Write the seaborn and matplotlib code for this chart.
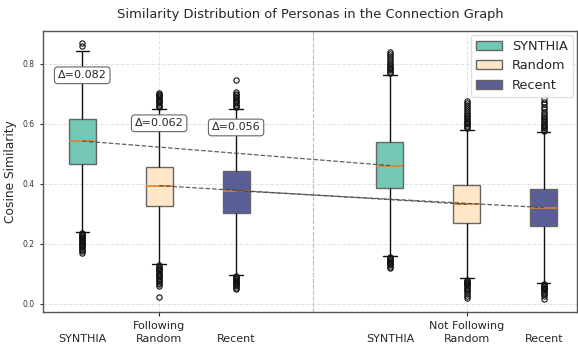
import pandas as pd
import numpy as np
import matplotlib.pyplot as plt
import seaborn as sns

# --- data ---
methods = ["SYNTHIA", "Random", "Recent"]
groups = ["Following", "Not Following"]
palette = {"SYNTHIA": "#72c7b5", "Random": "#fee6c6", "Recent": "#5a5e96"}

# box statistics per (group, method): lower whisker, q1, median, q3, upper whisker
whislo = [0.241, 0.134, 0.097, 0.160, 0.085, 0.071]
q1 = [0.466, 0.327, 0.304, 0.386, 0.270, 0.258]
median = [0.543, 0.394, 0.377, 0.461, 0.332, 0.321]
q3 = [0.617, 0.457, 0.443, 0.538, 0.395, 0.384]
whishi = [0.842, 0.650, 0.650, 0.764, 0.580, 0.572]

low_outliers = [
    [0.236, 0.232, 0.228, 0.225, 0.222, 0.219, 0.216, 0.213, 0.210, 0.207,
     0.204, 0.200, 0.196, 0.192, 0.188, 0.184, 0.180, 0.175, 0.170],
    [0.128, 0.124, 0.120, 0.116, 0.112, 0.108, 0.104, 0.100, 0.096, 0.092,
     0.088, 0.084, 0.080, 0.075, 0.070, 0.065, 0.058, 0.022],
    [0.092, 0.089, 0.086, 0.083, 0.080, 0.077, 0.074, 0.070, 0.066, 0.062,
     0.058, 0.053, 0.048],
    [0.155, 0.152, 0.149, 0.146, 0.143, 0.140, 0.136, 0.132, 0.128, 0.124, 0.119],
    [0.080, 0.077, 0.074, 0.071, 0.068, 0.065, 0.062, 0.058, 0.054, 0.050,
     0.045, 0.040, 0.034, 0.027, 0.019],
    [0.066, 0.063, 0.060, 0.057, 0.054, 0.051, 0.048, 0.045, 0.041, 0.037,
     0.032, 0.026, 0.016],
]
high_outliers = [
    [0.860, 0.870],
    [0.656, 0.660, 0.664, 0.668, 0.672, 0.676, 0.680, 0.684, 0.688, 0.692,
     0.696, 0.700, 0.704],
    [0.656, 0.660, 0.664, 0.668, 0.672, 0.676, 0.680, 0.685, 0.690, 0.695,
     0.700, 0.705, 0.745],
    [0.770, 0.774, 0.778, 0.782, 0.786, 0.790, 0.795, 0.800, 0.806, 0.812,
     0.818, 0.825, 0.832, 0.841],
    [0.586, 0.590, 0.594, 0.598, 0.602, 0.606, 0.610, 0.615, 0.620, 0.625,
     0.630, 0.636, 0.642, 0.648, 0.655, 0.662, 0.670, 0.677],
    [0.577, 0.581, 0.585, 0.589, 0.593, 0.597, 0.601, 0.606, 0.611, 0.616,
     0.621, 0.627, 0.633, 0.640, 0.648, 0.656, 0.665, 0.673, 0.682],
]

positions = [0, 1, 2, 4, 5, 6]
box_method = methods * 2

# build samples whose quartiles/whiskers reproduce the read box statistics
rows = []
M = 60
for i, pos in enumerate(positions):
    vals = (low_outliers[i] + [whislo[i]] + [q1[i]] * M + [median[i]] * M
            + [q3[i]] * M + [whishi[i]] + high_outliers[i])
    for v in vals:
        rows.append({"pos": pos, "Method": box_method[i], "sim": v})
df = pd.DataFrame(rows)

# --- plot ---
sns.set_style("ticks")
fig, ax = plt.subplots(figsize=(5.78, 3.47), dpi=100)
fig.subplots_adjust(left=0.0744, right=0.998, bottom=0.101, top=0.911)

ax.grid(True, linestyle="--", color="#cccccc", alpha=0.55, linewidth=0.7)
ax.set_axisbelow(True)

sns.boxplot(data=df, x="pos", y="sim", hue="Method", hue_order=methods,
            palette=palette, saturation=1, native_scale=True, dodge=False,
            width=0.35, linewidth=1, linecolor="#666666",
            whiskerprops=dict(color="#111111"),
            capprops=dict(color="#111111"),
            medianprops=dict(color="#e0842c", linewidth=1.2),
            flierprops=dict(marker="o", markersize=3.8, markerfacecolor="none",
                            markeredgecolor="#111111", markeredgewidth=0.8),
            ax=ax)

# dashed lines joining Following -> Not Following medians
for j in range(3):
    ax.plot([positions[j], positions[j + 3]], [median[j], median[j + 3]],
            linestyle="--", color="#444444", linewidth=0.9, alpha=0.85, zorder=5)

# delta annotations above Following boxes
for j in range(3):
    delta = median[j] - median[j + 3]
    ax.text(positions[j], q3[j] + 0.145, f"Δ={delta:.3f}", ha="center", va="center",
            fontsize=8, zorder=6,
            bbox=dict(boxstyle="round,pad=0.3", fc="white", ec="#666666", lw=0.8))

ax.axvline(3, color="#bbbbbb", linestyle="--", linewidth=0.8)

ax.set_xlim(-0.51, 6.43)
ax.set_ylim(-0.027, 0.91)
ax.set_yticks([0.0, 0.2, 0.4, 0.6, 0.8])
ax.tick_params(axis="y", labelsize=5.5, length=2.5, colors="#333333")
ax.set_xticks([1, 5], groups)
ax.tick_params(axis="x", labelsize=8, length=3)
for i, pos in enumerate(positions):
    ax.text(pos, -0.098, box_method[i], ha="center", va="center", fontsize=8,
            transform=ax.get_xaxis_transform())

ax.set_xlabel("")
ax.set_ylabel("Cosine Similarity", fontsize=8.8)
ax.set_title("Similarity Distribution of Personas in the Connection Graph",
             fontsize=9.4, pad=9)

for s in ax.spines.values():
    s.set_color("#555555")
    s.set_linewidth(1)

ax.legend(loc="upper right", fontsize=9.3, borderaxespad=0.3, framealpha=0.9,
          edgecolor="#dddddd")

plt.savefig("out.png", dpi=100)
